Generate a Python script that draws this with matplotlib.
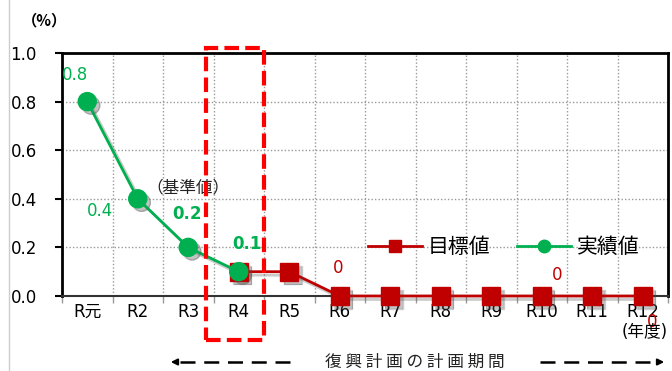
import matplotlib
matplotlib.use("Agg")
import matplotlib.pyplot as plt
import matplotlib.patheffects as pe
from matplotlib.patches import Rectangle
from matplotlib.lines import Line2D
import numpy as np

plt.rcParams['font.family'] = ['DejaVu Sans', 'Noto Sans CJK JP']
CJK = ['Noto Sans CJK JP', 'DejaVu Sans']

categories = ["R元", "R2", "R3", "R4", "R5", "R6", "R7", "R8", "R9", "R10", "R11", "R12"]
target = [np.nan, np.nan, np.nan, 0.1, 0.1, 0, 0, 0, 0, 0, 0, 0]
actual = [0.8, 0.4, 0.2, 0.1]
yticks = [0.0, 0.2, 0.4, 0.6, 0.8, 1.0]

RED = "#C00000"
GREEN = "#00B050"

fig = plt.figure(figsize=(6.72, 3.71), dpi=100)
ax = fig.add_axes([62/672, 1-296/371, 606/672, 243/371])

x = np.arange(len(categories))
xa = x[:len(actual)]
line_shadow = [pe.SimpleLineShadow(offset=(2.5, -2.5), shadow_color='#555555', alpha=0.3), pe.Normal()]
mark_shadow = [pe.SimplePatchShadow(offset=(3, -3), shadow_rgbFace='#555555', alpha=0.35)]

# marker shadows
ax.plot(x, target, linestyle='none', marker='s', markersize=13, color=RED, zorder=2.5,
        path_effects=mark_shadow, clip_on=False)
ax.plot(xa, actual, linestyle='none', marker='o', markersize=13, color=GREEN, zorder=2.6,
        path_effects=mark_shadow, clip_on=False)
# series
ax.plot(x, target, color=RED, lw=2, marker='s', markersize=13, markerfacecolor=RED,
        markeredgecolor=RED, zorder=3, path_effects=line_shadow, clip_on=False)
ax.plot(xa, actual, color=GREEN, lw=2, marker='o', markersize=13,
        markerfacecolor=GREEN, markeredgecolor=GREEN, zorder=4,
        path_effects=line_shadow, clip_on=False)

ax.set_xlim(-0.5, len(categories) - 0.5)
ax.set_ylim(0, 1.0)
ax.set_xticks(x)
ax.set_xticklabels(categories, fontsize=12)
ax.set_xticks(np.arange(-0.5, len(categories), 1), minor=True)
ax.set_yticks(yticks)
ax.set_yticklabels([f"{v:.1f}" for v in yticks], fontsize=12)
ax.tick_params(axis='x', which='major', length=0, pad=5)
ax.tick_params(axis='x', which='minor', length=5, color='#999999', width=1)
ax.tick_params(axis='y', length=5, width=1.5, color='black', pad=13)

ax.grid(axis='y', which='major', linestyle=(0, (1, 1.5)), color='#999999', lw=1)
ax.grid(axis='x', which='minor', linestyle=(0, (1, 1.5)), color='#999999', lw=1)
ax.grid(axis='x', which='major', visible=False)
ax.set_axisbelow(True)

for s in ['left', 'top', 'right']:
    ax.spines[s].set_linewidth(2)
    ax.spines[s].set_color('black')
ax.spines['bottom'].set_linewidth(1.5)
ax.spines['bottom'].set_color('#333333')

# data labels
ax.annotate("0.8", (0, 0.8), xytext=(-9, 19), textcoords='offset points', color=GREEN,
            fontsize=12, ha='center', va='center')
ax.annotate("0.4", (1, 0.4), xytext=(-27, -9), textcoords='offset points', color=GREEN,
            fontsize=12, ha='center', va='center')
ax.annotate("0.2", (2, 0.2), xytext=(-1, 24), textcoords='offset points', color=GREEN,
            fontsize=12, fontweight='bold', ha='center', va='center')
ax.annotate("0.1", (3, 0.1), xytext=(6, 20), textcoords='offset points', color=GREEN,
            fontsize=12, fontweight='bold', ha='center', va='center')
ax.annotate("（基準値）", (1, 0.4), xytext=(36, 8), textcoords='offset points', color='#222222',
            fontsize=12, ha='center', va='center', family=CJK)
ax.annotate("0", (5, 0), xytext=(-1, 20), textcoords='offset points', color=RED,
            fontsize=12, ha='center', va='center')
ax.annotate("0", (9, 0), xytext=(11, 15), textcoords='offset points', color=RED,
            fontsize=12, ha='center', va='center')
ax.annotate("0", (11, 0), xytext=(7, -19), textcoords='offset points', color=RED,
            fontsize=12, ha='center', va='center', annotation_clip=False, zorder=1)

# red dashed frame
rect = Rectangle((2.36, -0.18), 1.14, 1.2, fill=False, edgecolor='#FF0000', lw=3,
                 linestyle=(0, (3.5, 1.5)), clip_on=False, zorder=5)
ax.add_patch(rect)

handles = [
    Line2D([], [], color=RED, lw=2, marker='s', markersize=9, label="目標値"),
    Line2D([], [], color=GREEN, lw=2, marker='o', markersize=9, label="実績値"),
]
ax.legend(handles=handles, loc='center left', bbox_to_anchor=(0.505, 0.2), ncol=2,
          frameon=False, prop={'family': CJK, 'size': 15}, handlelength=2.6,
          columnspacing=1.3, handletextpad=0.25, borderaxespad=0, borderpad=0)

fig.text(44/672, 1-20/371, "（%）", fontsize=11, fontweight='bold', ha='center', va='center',
         family=CJK)
fig.text(645/672, 1-332/371, "(年度)", fontsize=12, ha='center', va='center')
fig.text(415/672, 1-362/371, "復 興 計 画 の 計 画 期 間", fontsize=12, ha='center', va='center',
         color='#222222', family=CJK)

# dashed arrows
ypix = 1-362/371
fig.add_artist(Line2D([180/672, 292/672], [ypix, ypix], color='black', lw=1.8,
                      linestyle=(0, (6, 3.5)), transform=fig.transFigure))
fig.add_artist(Line2D([540/672, 655/672], [ypix, ypix], color='black', lw=1.8,
                      linestyle=(0, (6, 3.5)), transform=fig.transFigure))
ax.annotate("", xy=(168/672, ypix), xytext=(180/672, ypix), xycoords='figure fraction',
            textcoords='figure fraction',
            arrowprops=dict(arrowstyle='-|>', color='black', lw=1.5, mutation_scale=9))
ax.annotate("", xy=(667/672, ypix), xytext=(655/672, ypix), xycoords='figure fraction',
            textcoords='figure fraction',
            arrowprops=dict(arrowstyle='-|>', color='black', lw=1.5, mutation_scale=9))

# left frame line
fig.add_artist(Line2D([9/672, 9/672], [0, 1], color='#cccccc', lw=1, transform=fig.transFigure))

fig.savefig("out.png", dpi=100)
